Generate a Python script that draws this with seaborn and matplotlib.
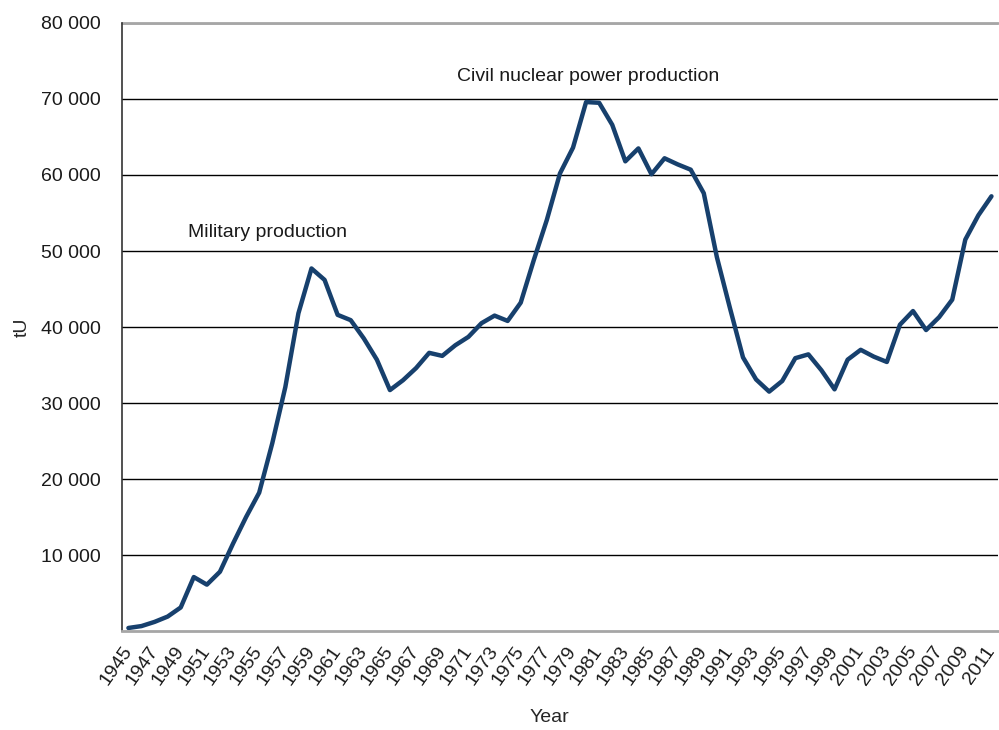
import matplotlib
matplotlib.use("Agg")
import matplotlib.pyplot as plt
import matplotlib.ticker as mticker
import seaborn as sns
import pandas as pd
import numpy as np

years = list(range(1945, 2012))
production = [
    400, 650, 1200, 1900, 3100, 7100, 6100, 7800, 11500, 15000,
    18200, 24700, 32100, 41800, 47700, 46200, 41600, 40900, 38500, 35700,
    31700, 33000, 34600, 36600, 36200, 37600, 38700, 40500, 41500, 40800,
    43200, 48800, 54100, 60200, 63600, 69600, 69500, 66600, 61800, 63500,
    60100, 62200, 61400, 60700, 57600, 49200, 42500, 36000, 33100, 31500,
    32900, 35900, 36400, 34300, 31800, 35700, 37000, 36100, 35400, 40300,
    42100, 39600, 41300, 43600, 51500, 54700, 57200,
]
annotations = ["Military production", "Civil nuclear power production"]
y_ticks = [10000, 20000, 30000, 40000, 50000, 60000, 70000, 80000]

df = pd.DataFrame({"Year": years, "tU": production})

sns.set_style("white")
plt.rcParams["font.family"] = ["Liberation Sans", "DejaVu Sans"]
plt.rcParams["text.color"] = "#1a1a1a"

FS = 14

fig = plt.figure(figsize=(9.99, 7.30), dpi=100)
ax = fig.add_axes([0.122, 0.1356, 0.877, 0.8329])

sns.lineplot(data=df, x="Year", y="tU", ax=ax, color="#17406D", linewidth=3.2)

ax.set_xlim(1944.5, 2011.5)
ax.set_ylim(0, 80000)

# gridlines
ax.set_yticks(y_ticks)
ax.yaxis.set_major_formatter(mticker.FuncFormatter(lambda v, p: f"{int(v):,}".replace(",", " ")))
ax.grid(axis="y", color="black", linewidth=1.0)
ax.set_axisbelow(True)
ax.tick_params(axis="y", direction="out", length=5, width=1, color="#333333",
               labelsize=FS, pad=10, labelcolor="#1a1a1a")

# x: labels at category centres, tick marks at boundaries
label_years = years[::2]
ax.set_xticks(label_years)
ax.set_xticklabels([str(y) for y in label_years], rotation=55, ha="right", va="center",
                   rotation_mode="anchor", fontsize=FS)
ax.tick_params(axis="x", which="major", length=0, pad=12, labelcolor="#1a1a1a")
ax.set_xticks(np.arange(1944.5, 2011.6, 2), minor=True)
ax.tick_params(axis="x", which="minor", direction="out", length=6, width=1.5, color="#a6a6a6")

for s in ["top", "right"]:
    ax.spines[s].set_visible(False)
ax.spines["left"].set_color("#333333")
ax.spines["left"].set_linewidth(1.2)
ax.spines["bottom"].set_color("#a6a6a6")
ax.spines["bottom"].set_linewidth(2)
ax.axhline(80000, color="#a6a6a6", linewidth=2, clip_on=False)

ax.set_ylabel("tU", fontsize=FS)
ax.yaxis.set_label_coords(-0.104, 0.5)
ax.set_xlabel("Year", fontsize=FS)
ax.xaxis.set_label_coords(0.4875, -0.128)

ax.text(1949.55, 52500, annotations[0], fontsize=FS, ha="left", va="center")
ax.text(1970.1, 73000, annotations[1], fontsize=FS, ha="left", va="center")

fig.savefig("out.png", dpi=100)
